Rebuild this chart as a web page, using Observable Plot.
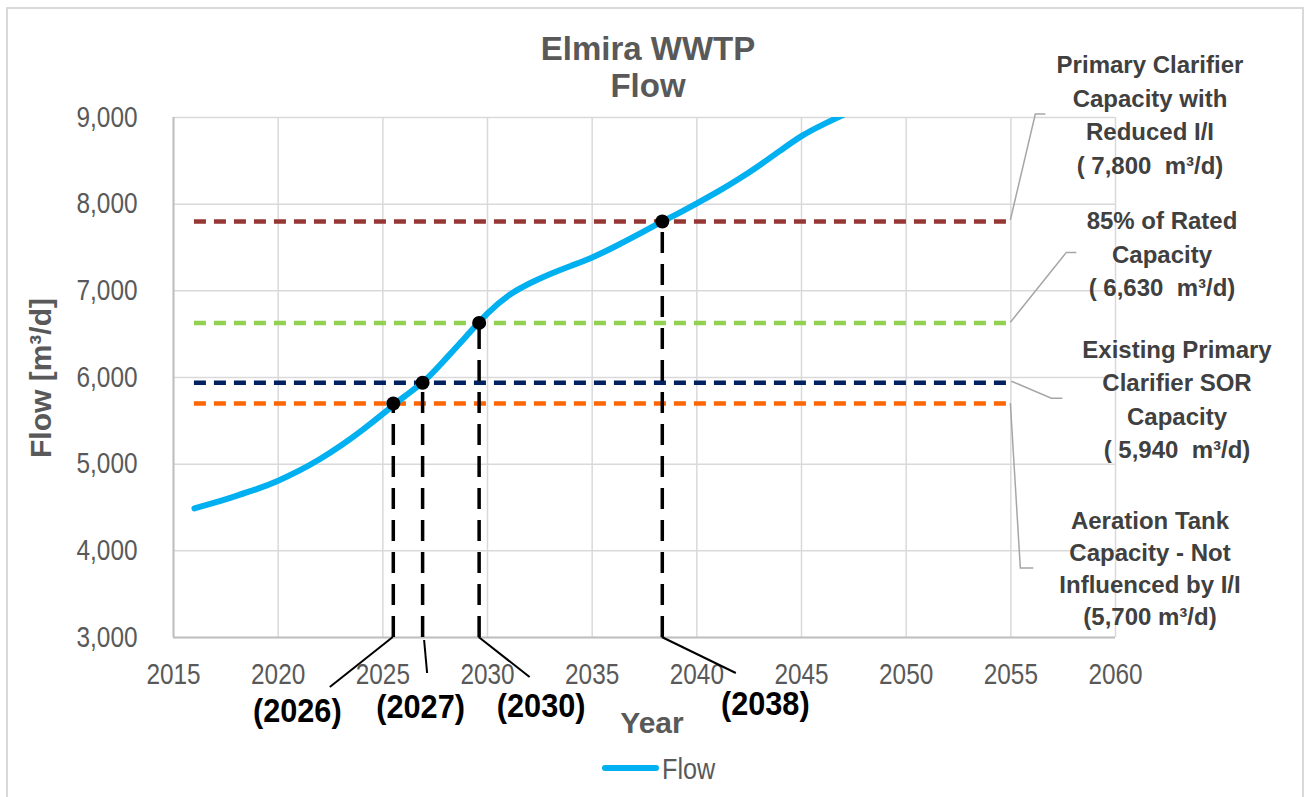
<!DOCTYPE html>
<html>
<head>
<meta charset="utf-8">
<script src="https://cdn.jsdelivr.net/npm/d3@7"></script>
<script src="https://cdn.jsdelivr.net/npm/@observablehq/plot@0.6"></script>
<style>
html, body { margin: 0; padding: 0; background: #fff; }
#chart { position: relative; width: 1306px; height: 797px; }
</style>
</head>
<body>
<div id="chart"></div>
<script>
// ---------- data ----------
const years = [2016, 2017, 2018, 2019, 2020, 2021, 2022, 2023, 2024, 2025, 2026, 2027, 2028, 2029, 2030, 2031,
  2032, 2033, 2034, 2035, 2036, 2037, 2038, 2039, 2040, 2041, 2042, 2043, 2044, 2045, 2046, 2047];
const flow = [4490, 4560, 4635, 4715, 4810, 4925, 5060, 5215, 5390, 5580, 5775, 5965, 6215, 6480, 6740, 6945,
  7085, 7195, 7290, 7385, 7500, 7625, 7755, 7880, 8010, 8145, 8290, 8450, 8620, 8785, 8915, 9030];

const capacityValues = [7800, 6630, 5940, 5700];
const capacityStart = 2016;
const capacityEnd = 2055;
const capacityLabels = [
  ["Primary Clarifier", "Capacity with", "Reduced I/I", "( 7,800\u00a0 m³/d)"],
  ["85% of Rated", "Capacity", "( 6,630\u00a0 m³/d)"],
  ["Existing Primary", "Clarifier SOR", "Capacity", "( 5,940\u00a0 m³/d)"],
  ["Aeration Tank", "Capacity - Not", "Influenced by I/I", "(5,700 m³/d)"]
];

const crossingYears = [2025.5, 2026.9, 2029.6, 2038.35];
const crossingValues = [5700, 5940, 6630, 7800];
const crossingLabels = ["(2026)", "(2027)", "(2030)", "(2038)"];

const xTicks = [2015, 2020, 2025, 2030, 2035, 2040, 2045, 2050, 2055, 2060];
const yTicks = [3000, 4000, 5000, 6000, 7000, 8000, 9000];

const titleLines = ["Elmira WWTP", "Flow"];
const xLabel = "Year";
const yLabel = "Flow [m³/d]";
const seriesName = "Flow";

// ---------- styles / layout ----------
const capacityColors = ["#953735", "#92D050", "#002060", "#FF6600"];
const flowColor = "#00B0F0";
const SANS = "'Liberation Sans', Arial, sans-serif";
const GRAY = "#595959";

// offsets (px) of crossing-year labels and their leader lines relative to (year, 3000)
const yearLabelLayout = [
  {dx: -96, dy: 74, lead: [[0, 0], [-63, 50]]},
  {dx: -2, dy: 70, lead: [[2, 3], [5, 36]]},
  {dx: 62, dy: 69, lead: [[0, 0], [51, 40]]},
  {dx: 103, dy: 67, lead: [[0, 0], [74, 36]]}
];
// capacity label blocks: centre x, first baseline (px), leader offsets from (2055, value)
const capLabelLayout = [
  {cx: 1150, y0: 73, lh: 33.6, lead: [[0, -1], [25, -107], [35, -107]]},
  {cx: 1162, y0: 229, lh: 33.5, lead: [[0, 0], [56, -70], [66, -70]]},
  {cx: 1177, y0: 358, lh: 33.4, lead: [[1, -1], [41, 16], [52, 16]]},
  {cx: 1150, y0: 529, lh: 32, lead: [[0, 0], [10, 165], [23, 165]]}
];

const flowData = years.map((y, i) => ({year: y, flow: flow[i]}));
const cross = crossingYears.map((y, i) => ({year: y, value: crossingValues[i], label: crossingLabels[i]}));

const W = 1306, H = 797;

const plot = Plot.plot({
  width: W,
  height: H,
  marginLeft: 173,
  marginRight: 191,
  marginTop: 117,
  marginBottom: 160,
  style: {background: "transparent", overflow: "visible"},
  x: {domain: [2015, 2060]},
  y: {domain: [3000, 9000]},
  marks: [
    Plot.ruleX(xTicks, {stroke: "#d9d9d9", strokeWidth: 1.5}),
    Plot.ruleY(yTicks, {stroke: "#d9d9d9", strokeWidth: 1.5}),
    Plot.ruleX([2015], {stroke: "#bfbfbf", strokeWidth: 2}),
    Plot.ruleY([3000], {stroke: "#bfbfbf", strokeWidth: 2}),
    Plot.axisX(xTicks, {tickSize: 0, tickPadding: 26, tickFormat: d => String(d), label: null}),
    Plot.axisY(yTicks, {tickSize: 0, tickPadding: 36, tickFormat: d3.format(","), label: null}),
    ...capacityValues.map((v, i) =>
      Plot.ruleY([v], {x1: capacityStart, x2: capacityEnd, stroke: capacityColors[i], strokeWidth: 4.5, strokeDasharray: "12,8"})
    ),
    Plot.line(flowData, {x: "year", y: "flow", stroke: flowColor, strokeWidth: 6, curve: "natural", clip: true}),
    Plot.ruleX(cross, {x: "year", y1: 3000, y2: "value", stroke: "black", strokeWidth: 3.5, strokeDasharray: "21,11"}),
    Plot.dot(cross, {x: "year", y: "value", r: 7, fill: "black"}),
    ...cross.map((d, i) =>
      Plot.text([d], {x: "year", y: () => 3000, text: "label", dx: yearLabelLayout[i].dx, dy: yearLabelLayout[i].dy,
        fontSize: 33, fontWeight: "bold", fill: "black", fontFamily: SANS, textAnchor: "middle"})
    )
  ]
});

document.getElementById("chart").appendChild(plot);

const svg = d3.select(plot);
const xs = plot.scale("x").apply;
const ys = plot.scale("y").apply;

// condense text horizontally (narrow face not installed)
function condense(sel, f) {
  sel.each(function () {
    const w = this.getComputedTextLength();
    if (w > 0) {
      this.setAttribute("textLength", (w * f).toFixed(1));
      this.setAttribute("lengthAdjust", "spacingAndGlyphs");
    }
  });
}

// axis text styling
svg.selectAll('g[aria-label="x-axis tick label"], g[aria-label="y-axis tick label"]')
  .style("font-family", SANS).style("font-size", "29px").style("fill", GRAY);
condense(svg.selectAll('g[aria-label="x-axis tick label"] text, g[aria-label="y-axis tick label"] text'), 0.84);

// outer frame
svg.insert("rect", ":first-child")
  .attr("x", 7).attr("y", 8).attr("width", 1296).attr("height", 800)
  .attr("fill", "none").attr("stroke", "#d9d9d9").attr("stroke-width", 2);

// leaders for crossing-year labels
cross.forEach((d, i) => {
  const x0 = xs(d.year), y0 = ys(3000);
  const pts = yearLabelLayout[i].lead.map(([a, b]) => [x0 + a, y0 + b]);
  svg.append("path").attr("d", d3.line()(pts)).attr("fill", "none")
    .attr("stroke", "black").attr("stroke-width", 2);
});
condense(svg.selectAll('g[aria-label="text"] text'), 0.93);

// capacity labels + leaders
capacityValues.forEach((v, i) => {
  const L = capLabelLayout[i];
  const x0 = xs(capacityEnd), y0 = ys(v);
  const pts = L.lead.map(([a, b]) => [x0 + a, y0 + b]);
  svg.append("path").attr("d", d3.line()(pts)).attr("fill", "none")
    .attr("stroke", "#a6a6a6").attr("stroke-width", 1.5);
  const t = svg.append("text").attr("text-anchor", "middle")
    .attr("font-family", SANS).attr("font-weight", "bold").attr("font-size", 24).attr("fill", "#404040");
  capacityLabels[i].forEach((line, j) => {
    t.append("tspan").attr("x", L.cx).attr("y", L.y0 + j * L.lh).text(line);
  });
});

// title
const tt = svg.append("text").attr("text-anchor", "middle").attr("font-family", SANS)
  .attr("font-weight", "bold").attr("font-size", 33).attr("fill", GRAY);
titleLines.forEach((s, j) => tt.append("tspan").attr("x", 648).attr("y", 60 + j * 37).text(s));

// axis titles
svg.append("text").attr("x", 652).attr("y", 733).attr("text-anchor", "middle")
  .attr("font-family", SANS).attr("font-weight", "bold").attr("font-size", 30).attr("fill", GRAY).text(xLabel);
svg.append("text").attr("transform", "translate(40,378) rotate(-90)").attr("text-anchor", "middle")
  .attr("dominant-baseline", "central")
  .attr("font-family", SANS).attr("font-weight", "bold").attr("font-size", 30).attr("fill", GRAY).text(yLabel);

// legend
svg.append("line").attr("x1", 605).attr("x2", 656).attr("y1", 768).attr("y2", 768)
  .attr("stroke", flowColor).attr("stroke-width", 6).attr("stroke-linecap", "round");
const lt = svg.append("text").attr("x", 662).attr("y", 779).attr("text-anchor", "start")
  .attr("font-family", SANS).attr("font-size", 30).attr("fill", GRAY).text(seriesName);
condense(lt, 0.84);
</script>
</body>
</html>
